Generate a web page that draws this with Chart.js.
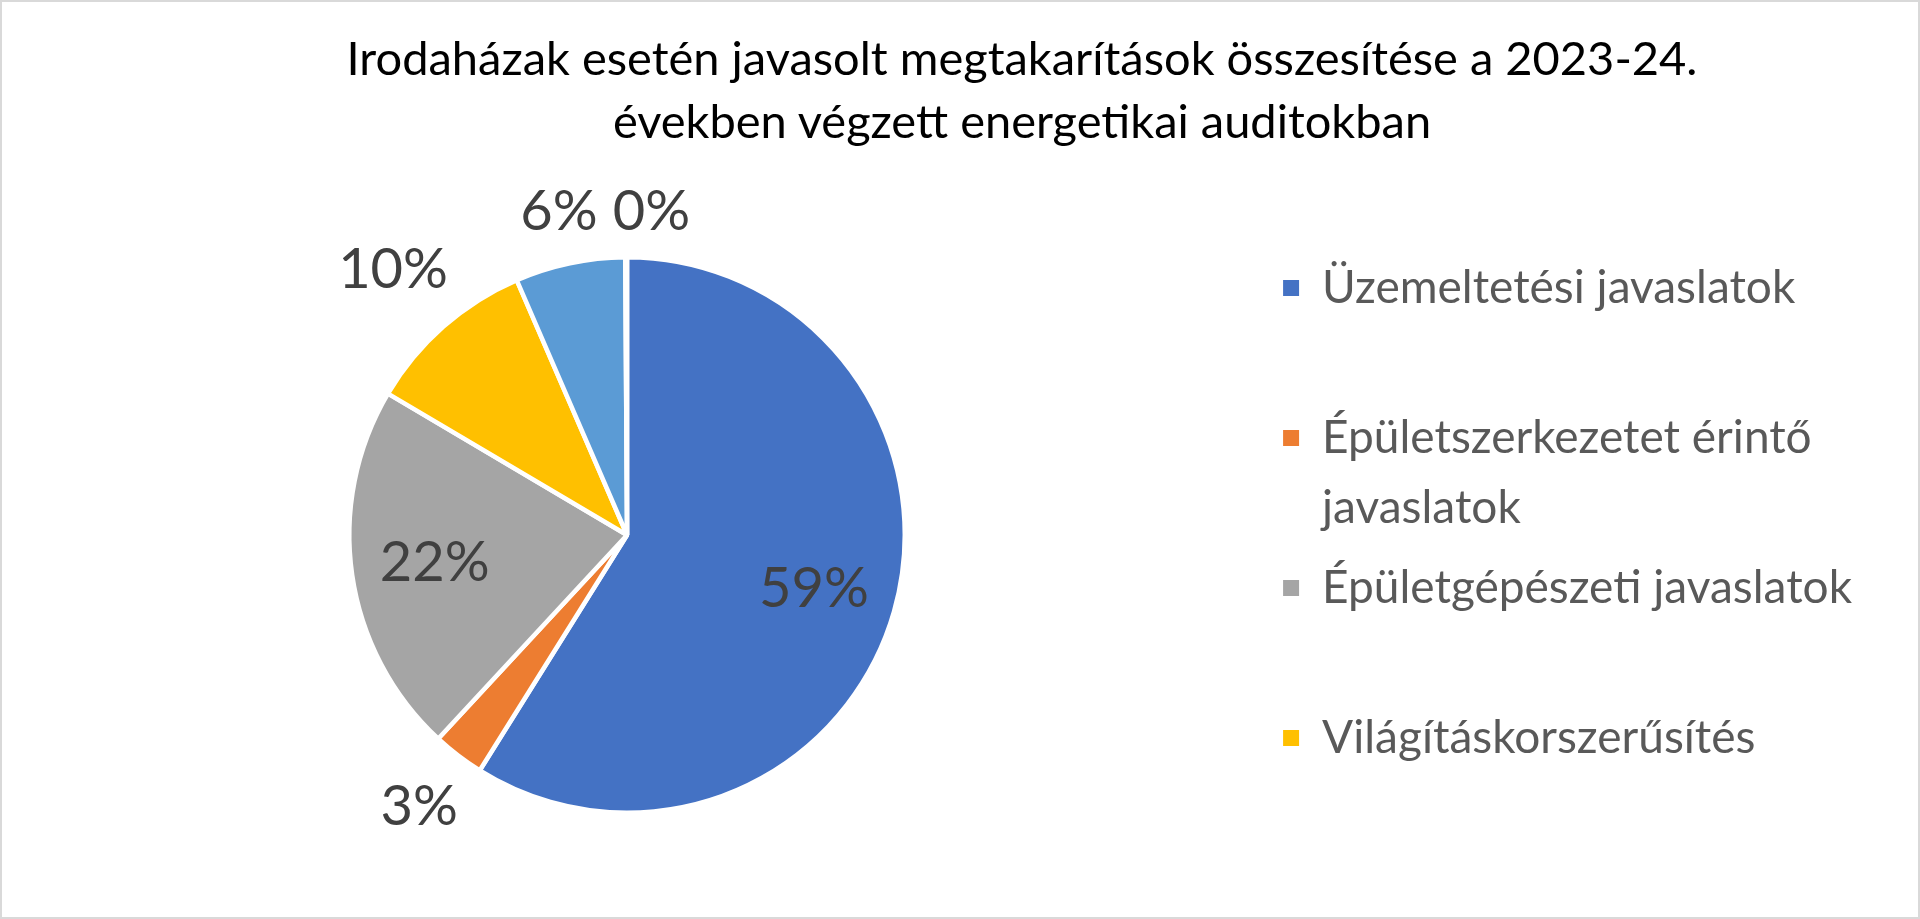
<!DOCTYPE html>
<html>
<head>
<meta charset="utf-8">
<title>Irodaházak megtakarítások</title>
<script src="https://cdn.jsdelivr.net/npm/chart.js@4.4.1/dist/chart.umd.min.js"></script>
<style>
  html, body { margin: 0; padding: 0; background: #fff; overflow: hidden; }
  #frame { position: relative; width: 1920px; height: 919px; overflow: hidden; background: #fff; }
  #wrap { position: absolute; left: -19px; top: 0; width: 1939px; height: 919px; }
  #title {
    position: absolute; left: 124px; width: 1796px; top: 26px;
    text-align: center; color: #000;
    font: 47px/63px Lato, "Open Sans", sans-serif;
    white-space: nowrap;
  }
  #border { position: absolute; left: 0; top: 0; right: 0; bottom: 0; border: 2px solid #d9d9d9; pointer-events: none; }
</style>
</head>
<body>
<div id="frame">
  <div id="wrap"><canvas id="pie"></canvas></div>
  <div id="title"></div>
  <div id="border"></div>
</div>
<script>
// Data
const titleLines = [
  'Irodaházak esetén javasolt megtakarítások összesítése a 2023-24.',
  'években végzett energetikai auditokban'
];
const categories = [
  'Üzemeltetési javaslatok',
  'Épületszerkezetet érintő javaslatok',
  'Épületgépészeti javaslatok',
  'Világításkorszerűsítés',
  'Egyéb javaslatok',
  'Egyéb'
];
const shares = [58.9, 3.0, 21.6, 10.0, 6.4, 0.1];
const sliceColors = ['#4472C4', '#ED7D31', '#A5A5A5', '#FFC000', '#5B9BD5', '#70AD47'];
const legendCount = 4;   // Excel only fit the first four entries

const FONT = 'Lato, "Open Sans", sans-serif';
const legendSize = 46;
const legendPad = 10;
const legendBox = 16;

// title as plain text above the canvas
const titleEl = document.getElementById('title');
titleLines.forEach((line, i) => {
  if (i) titleEl.appendChild(document.createElement('br'));
  titleEl.appendChild(document.createTextNode(line));
});

// split long legend text; every entry but the last gets 2 lines so the slots are equal
function wrapLabel(text, maxChars, pad) {
  const words = text.split(' ');
  const lines = [];
  let cur = '';
  words.forEach(w => {
    const next = cur ? cur + ' ' + w : w;
    if (next.length > maxChars && cur) {
      lines.push(cur);
      cur = w;
    } else {
      cur = next;
    }
  });
  lines.push(cur);
  while (pad && lines.length < 2) lines.push('');
  return lines;
}

const legendLines = categories.slice(0, legendCount).map((c, i) => wrapLabel(c, 28, i < legendCount - 1));

// legend should start at x=1273 of the page; work out the right padding from the text width
const mctx = document.createElement('canvas').getContext('2d');
mctx.font = legendSize + 'px ' + FONT;
let textW = 0;
legendLines.forEach(ls => ls.forEach(l => { textW = Math.max(textW, mctx.measureText(l).width); }));
const legendW = legendPad + legendBox + legendSize / 2 + textW + 10;
const rightPad = Math.max(0, Math.round(1920 - 1273 - legendW));

// percentage labels, inside for big slices and outside for small ones
const pctLabels = {
  id: 'pctLabels',
  afterDatasetsDraw(chart) {
    const ctx = chart.ctx;
    const meta = chart.getDatasetMeta(0);
    const total = shares.reduce((a, b) => a + b, 0);
    ctx.save();
    ctx.font = '56px ' + FONT;
    ctx.fillStyle = '#404040';
    ctx.textAlign = 'center';
    ctx.textBaseline = 'middle';
    let prev = null;
    meta.data.forEach((arc, i) => {
      const p = arc.getProps(['x', 'y', 'startAngle', 'endAngle', 'outerRadius'], true);
      const pct = shares[i] / total * 100;
      const text = Math.round(pct) + '%';
      const mid = (p.startAngle + p.endAngle) / 2;
      const cos = Math.cos(mid), sin = Math.sin(mid);
      const w = ctx.measureText(text).width;
      const h = 42;
      let lx, ly;
      if (pct >= 15) {
        lx = p.x + cos * p.outerRadius * 0.7;
        ly = p.y + sin * p.outerRadius * 0.7;
      } else {
        const d = p.outerRadius + 24 + Math.abs(cos) * w / 2 + Math.abs(sin) * h / 2;
        lx = p.x + cos * d;
        ly = p.y + sin * d;
        if (prev && Math.abs(ly - prev.y) < h && lx - w / 2 < prev.x + prev.w / 2 + 15) {
          lx = prev.x + prev.w / 2 + 15 + w / 2;
        }
        prev = { x: lx, y: ly, w: w };
      }
      ctx.fillText(text, lx, ly);
    });
    ctx.restore();
  }
};

new Chart(document.getElementById('pie'), {
  type: 'pie',
  data: {
    labels: categories,
    datasets: [{
      data: shares,
      backgroundColor: sliceColors,
      borderColor: '#ffffff',
      borderWidth: 4.5
    }]
  },
  options: {
    responsive: true,
    maintainAspectRatio: false,
    animation: false,
    layout: {
      padding: { top: 255, left: 0, right: rightPad, bottom: 104 }
    },
    plugins: {
      title: { display: false },
      legend: {
        position: 'right',
        align: 'start',
        fullSize: false,
        labels: {
          color: '#595959',
          font: { family: FONT, size: legendSize, lineHeight: '70px' },
          boxWidth: legendBox,
          boxHeight: legendBox,
          padding: legendPad,
          filter: item => item.index < legendCount,
          generateLabels(chart) {
            const items = Chart.overrides.pie.plugins.legend.labels.generateLabels(chart);
            return items.map(it => Object.assign(it, {
              text: it.index < legendCount ? legendLines[it.index] : categories[it.index],
              lineWidth: 0,
              strokeStyle: it.fillStyle
            }));
          }
        }
      },
      tooltip: { enabled: false }
    }
  },
  plugins: [pctLabels]
});
</script>
</body>
</html>
